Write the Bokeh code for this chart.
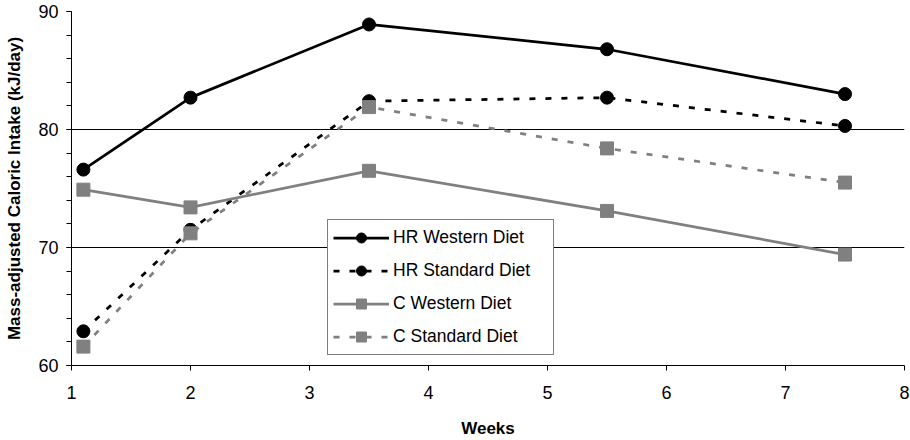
from bokeh.plotting import figure
from bokeh.models import FixedTicker, Legend, LegendItem, Range1d
from bokeh.embed import file_html
from bokeh.resources import INLINE

weeks = [1.1, 2.0, 3.5, 5.5, 7.5]
hr_western = [76.6, 82.7, 88.9, 86.8, 83.0]
hr_standard = [62.9, 71.5, 82.4, 82.7, 80.3]
c_western = [74.9, 73.4, 76.5, 73.1, 69.4]
c_standard = [61.6, 71.2, 81.9, 78.4, 75.5]

x_ticks = [1, 2, 3, 4, 5, 6, 7, 8]
y_ticks = [60, 70, 80, 90]
y_minor = list(range(60, 91, 2))

FONT = "Liberation Sans"
GRAY = "#808080"

p = figure(width=910, height=440, output_backend="svg", toolbar_location=None,
           x_range=Range1d(1, 8), y_range=Range1d(60, 90),
           min_border_left=71, min_border_right=6, min_border_top=11, min_border_bottom=73)
p.outline_line_color = None
p.background_fill_color = "white"

p.xaxis.ticker = FixedTicker(ticks=x_ticks)
p.yaxis.ticker = FixedTicker(ticks=y_ticks, minor_ticks=y_minor)
for ax in (p.xaxis[0], p.yaxis[0]):
    ax.axis_line_color = "black"
    ax.axis_line_width = 1
    ax.major_tick_in = 0
    ax.major_tick_out = 5
    ax.major_tick_line_color = "black"
    ax.minor_tick_in = 0
    ax.minor_tick_out = 5
    ax.minor_tick_line_color = "black"
    ax.major_label_text_font = FONT
    ax.major_label_text_font_size = "18px"
    ax.major_label_text_color = "black"
    ax.axis_label_text_font = FONT
    ax.axis_label_text_font_size = "17px"
    ax.axis_label_text_font_style = "bold"
    ax.axis_label_text_color = "black"
p.xaxis.minor_tick_line_color = None
p.xaxis.major_label_standoff = 15
p.yaxis.major_label_standoff = 8
p.xaxis.axis_label = "Weeks"
p.yaxis.axis_label = "Mass-adjusted Caloric Intake (kJ/day)"
p.xaxis.axis_label_standoff = 17
p.yaxis.axis_label_standoff = 11

p.xgrid.grid_line_color = None
p.ygrid.ticker = FixedTicker(ticks=[70, 80, 90])
p.ygrid.grid_line_color = "black"
p.ygrid.grid_line_width = 1

DASH = "6 10"
series = [
    ("HR Western Diet", hr_western, "black", "solid", "circle"),
    ("HR Standard Diet", hr_standard, "black", DASH, "circle"),
    ("C Western Diet", c_western, GRAY, "solid", "square"),
    ("C Standard Diet", c_standard, GRAY, DASH, "square"),
]
items = []
for label, ys, color, dash, marker in series:
    l = p.line(weeks, ys, line_color=color, line_width=2.75, line_dash=dash)
    s = p.scatter(weeks, ys, marker=marker, size=13, fill_color=color, line_color=color)
    items.append(LegendItem(label=label, renderers=[l, s]))

legend = Legend(items=items, location=(256, 10), orientation="vertical",
                glyph_width=56, glyph_height=25, label_height=20, label_width=155,
                spacing=8, padding=5, label_standoff=4, margin=0,
                label_text_font=FONT, label_text_font_size="17.5px", label_text_color="black",
                border_line_color="black", border_line_width=1,
                background_fill_color="white", background_fill_alpha=1)
p.add_layout(legend, "center")

open("out.html", "w").write(file_html(p, INLINE))
